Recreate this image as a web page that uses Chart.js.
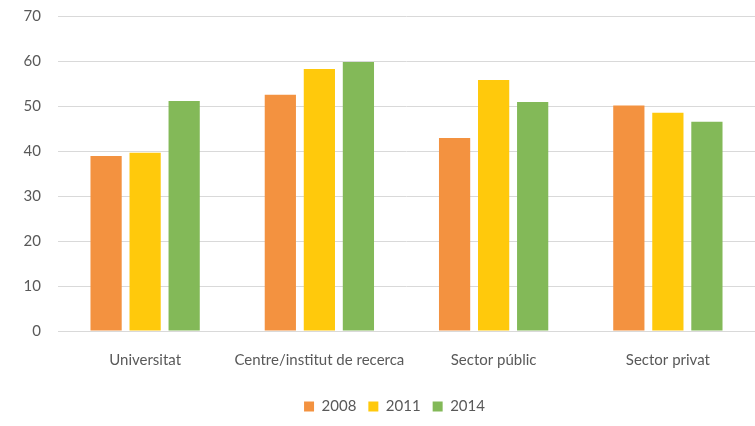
<!DOCTYPE html>
<html>
<head>
<meta charset="utf-8">
<script src="https://cdn.jsdelivr.net/npm/chart.js@4/dist/chart.umd.min.js"></script>
<style>
  html, body { margin: 0; padding: 0; background: #fff; }
  #wrap { width: 755px; height: 426px; position: relative; }
</style>
</head>
<body>
<div id="wrap"><canvas id="chart"></canvas></div>
<script>
/* ── Data ── */
var categories = ["Universitat", "Centre/institut de recerca", "Sector públic", "Sector privat"];
var series2008 = [38.9, 52.5, 42.9, 50.1];
var series2011 = [39.6, 58.2, 55.8, 48.5];
var series2014 = [51.1, 59.8, 50.9, 46.5];
var yTicks = [0, 10, 20, 30, 40, 50, 60, 70];

(function () {
  "use strict";

  var textColor = "#595959";
  var gridColor = "#D9D9D9";
  var fontFamily = "Lato, 'Open Sans', sans-serif";

  function ds(label, data, color) {
    return {
      label: label,
      data: data,
      backgroundColor: color,
      borderWidth: 0,
      categoryPercentage: 0.672,
      barPercentage: 0.8,
    };
  }

  /* ── nudge legend toward the plot centre, like the original ── */
  var legendShift = {
    id: "legendShift",
    afterLayout: function (chart) {
      if (!chart.legend) return;
      chart.legend.left += 17;
      chart.legend.right += 17;
    },
  };

  var ctx = document.getElementById("chart").getContext("2d");
  new Chart(ctx, {
    type: "bar",
    plugins: [legendShift],
    data: {
      labels: categories,
      datasets: [
        ds("2008", series2008, "#F39240"),
        ds("2011", series2011, "#FFC90C"),
        ds("2014", series2014, "#83B958"),
      ],
    },
    options: {
      responsive: true,
      maintainAspectRatio: false,
      animation: false,
      layout: { padding: { top: 16, right: 0, bottom: 2, left: 0 } },
      plugins: {
        tooltip: { enabled: false },
        legend: {
          position: "bottom",
          labels: {
            color: textColor,
            font: { family: fontFamily, size: 15 },
            boxWidth: 10,
            boxHeight: 10,
            padding: 12,
            generateLabels: function (chart) {
              return chart.data.datasets.map(function (d, i) {
                return {
                  text: d.label,
                  fillStyle: d.backgroundColor,
                  strokeStyle: d.backgroundColor,
                  lineWidth: 0,
                  datasetIndex: i,
                  fontColor: textColor,
                };
              });
            },
          },
        },
      },
      scales: {
        x: {
          grid: { display: false, drawTicks: false },
          border: { display: true, color: gridColor, width: 1 },
          ticks: { color: textColor, font: { family: fontFamily, size: 15 }, padding: 20, maxRotation: 0 },
          afterFit: function (scale) {
            scale.height = 56;
            scale.paddingLeft = 0;
            scale.paddingRight = 0;
          },
        },
        y: {
          min: 0,
          max: 70,
          afterBuildTicks: function (scale) {
            scale.ticks = yTicks.map(function (v) { return { value: v }; });
          },
          grid: { color: gridColor, lineWidth: 1, drawTicks: false },
          border: { display: false },
          ticks: { color: textColor, font: { family: fontFamily, size: 15 }, padding: 17 },
          afterFit: function (scale) {
            scale.width = 58;
            scale.paddingTop = 0;
            scale.paddingBottom = 0;
          },
        },
      },
    },
  });
})();
</script>
</body>
</html>
